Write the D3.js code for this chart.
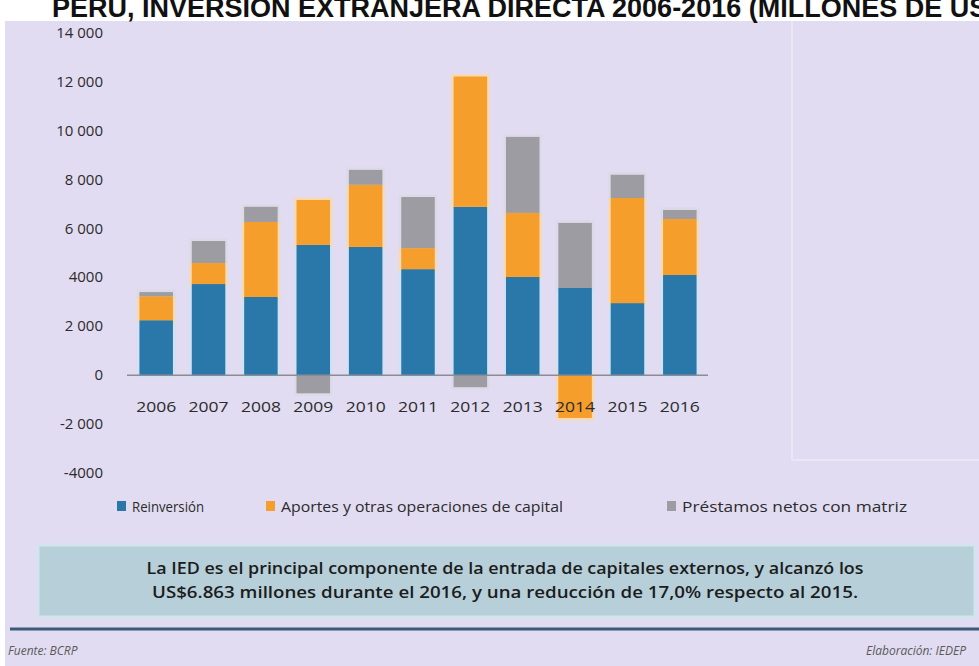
<!DOCTYPE html>
<html>
<head>
<meta charset="utf-8">
<script src="https://cdn.jsdelivr.net/npm/d3@7"></script>
<style>
  html, body { margin: 0; padding: 0; background: #ffffff; }
  svg { display: block; }
  .narrow { font-family: "Open Sans", "Noto Sans", sans-serif; }
  .tick-label { font-size: 15px; fill: #2b2b2b; }
  .legend-text { font-size: 14px; fill: #2b2b2b; }
  .note-text { font-size: 16px; fill: #1c1c1c; font-weight: 600; }
  .foot-text { font-size: 12px; fill: #5a5a5a; font-style: italic; }
  .title { font-family: "Liberation Sans", Arial, sans-serif; font-weight: 700; font-size: 27px; fill: #111; }
</style>
</head>
<body>
<div id="chart"></div>
<script>
const years = ["2006", "2007", "2008", "2009", "2010", "2011", "2012", "2013", "2014", "2015", "2016"];
const reinversion = [2250, 3730, 3200, 5330, 5250, 4340, 6890, 4020, 3570, 2950, 4100];
const aportes = [980, 860, 3070, 1840, 2540, 860, 5330, 2620, -1750, 4300, 2290];
const prestamos = [170, 900, 620, -740, 610, 2090, -490, 3110, 2660, 950, 370];
const yTicks = [14000, 12000, 10000, 8000, 6000, 4000, 2000, 0, -2000, -4000];
const yTickLabels = ["14 000", "12 000", "10 000", "8 000", "6 000", "4000", "2 000", "0", "-2 000", "-4000"];
const seriesKeys = ["reinversion", "aportes", "prestamos"];
const seriesNames = ["Reinversión", "Aportes y otras operaciones de capital", "Préstamos netos con matriz"];

const COLORS = { reinversion: "#2a78aa", aportes: "#f59e2c", prestamos: "#9c9ca2" };
const HALO = { reinversion: "#cfe2f6", aportes: "#fbd9a8", prestamos: "#d9d9e4" };

const W = 979, H = 666;
const svg = d3.select("#chart").append("svg").attr("width", W).attr("height", H);

// background panels
svg.append("rect").attr("x", 5).attr("y", 21).attr("width", W - 5).attr("height", H - 21).attr("fill", "#e1dcf1");
svg.append("line").attr("x1", 792).attr("x2", 792).attr("y1", 21).attr("y2", 460)
  .attr("stroke", "#e9e6f6").attr("stroke-width", 2);
svg.append("line").attr("x1", 792).attr("x2", W).attr("y1", 460).attr("y2", 460)
  .attr("stroke", "#e9e6f6").attr("stroke-width", 2);

// title, runs past the top and right edges as in the source image
svg.append("text").attr("class", "title").attr("x", 52).attr("y", 17)
  .text("PERÚ, INVERSIÓN EXTRANJERA DIRECTA 2006-2016 (MILLONES DE US$)");

const table = years.map((year, i) => ({
  year,
  reinversion: reinversion[i],
  aportes: aportes[i],
  prestamos: prestamos[i],
}));

const stacked = d3.stack().keys(seriesKeys).offset(d3.stackOffsetDiverging)(table);

const x = d3.scaleBand().domain(years).range([130, 706]).paddingInner(0.36).paddingOuter(0.18);
const y = d3.scaleLinear().domain([-4000, 14000]).range([473, 33]);

// halo behind bars
const halo = svg.append("g").attr("class", "halo");
stacked.forEach((layer) => {
  halo.selectAll(null)
    .data(layer)
    .join("rect")
    .attr("x", (d) => x(d.data.year))
    .attr("y", (d) => y(Math.max(d[0], d[1])))
    .attr("width", x.bandwidth())
    .attr("height", (d) => Math.abs(y(d[0]) - y(d[1])))
    .attr("fill", "none")
    .attr("stroke", HALO[layer.key])
    .attr("stroke-width", 5)
    .attr("stroke-opacity", 0.8);
});

const bars = svg.append("g").attr("class", "bars");
stacked.forEach((layer) => {
  bars.selectAll(null)
    .data(layer)
    .join("rect")
    .attr("x", (d) => x(d.data.year))
    .attr("y", (d) => y(Math.max(d[0], d[1])))
    .attr("width", x.bandwidth())
    .attr("height", (d) => Math.abs(y(d[0]) - y(d[1])))
    .attr("fill", COLORS[layer.key]);
});

// zero line
svg.append("line")
  .attr("x1", 127).attr("x2", 708)
  .attr("y1", y(0)).attr("y2", y(0))
  .attr("stroke", "#8c8c94").attr("stroke-width", 1.5);

// y axis labels
const yAxis = svg.append("g")
  .attr("class", "y-axis narrow")
  .attr("transform", "translate(103,0)")
  .call(d3.axisLeft(y).tickValues(yTicks).tickSize(0).tickPadding(0)
    .tickFormat((d, i) => yTickLabels[i]));
yAxis.select(".domain").remove();
yAxis.selectAll("text").attr("class", "tick-label").attr("font-family", null).attr("font-size", null)
  .attr("dy", "0.3em");

// x axis labels
const xAxis = svg.append("g")
  .attr("class", "x-axis narrow")
  .attr("transform", `translate(0,${y(0)})`)
  .call(d3.axisBottom(x).tickSize(0).tickPadding(37));
xAxis.select(".domain").remove();
xAxis.selectAll("text").attr("class", "tick-label").attr("font-family", null).attr("font-size", null)
  .attr("dy", "0").attr("textLength", 40).attr("lengthAdjust", "spacingAndGlyphs");

// legend
const legendX = [117, 266, 667];
const legendW = [72, 282, 225];
const legend = svg.append("g").attr("class", "legend narrow");
seriesKeys.forEach((key, i) => {
  const item = legend.append("g").attr("transform", `translate(${legendX[i]},501)`);
  item.append("rect").attr("width", 9).attr("height", 10).attr("fill", COLORS[key]);
  item.append("text").attr("class", "legend-text").attr("x", 15).attr("y", 10.5)
    .attr("textLength", legendW[i]).attr("lengthAdjust", "spacingAndGlyphs")
    .text(seriesNames[i]);
});

// note box
svg.append("rect").attr("x", 38).attr("y", 545).attr("width", 937).attr("height", 72)
  .attr("fill", "#b6cfd9").attr("stroke", "#d3e4ec").attr("stroke-width", 3);
const noteLines = [
  "La IED es el principal componente de la entrada de capitales externos, y alcanzó los",
  "US$6.863 millones durante el 2016, y una reducción de 17,0% respecto al 2015.",
];
const noteW = [717, 706];
const noteY = [574, 598];
svg.append("g").attr("class", "narrow").selectAll("text")
  .data(noteLines)
  .join("text")
  .attr("class", "note-text")
  .attr("x", 505)
  .attr("y", (d, i) => noteY[i])
  .attr("text-anchor", "middle")
  .attr("textLength", (d, i) => noteW[i])
  .attr("lengthAdjust", "spacingAndGlyphs")
  .text((d) => d);

// footer
svg.append("line").attr("x1", 10).attr("x2", W).attr("y1", 629).attr("y2", 629)
  .attr("stroke", "#3d5a78").attr("stroke-width", 3);
svg.append("text").attr("class", "foot-text narrow").attr("x", 8).attr("y", 655).text("Fuente: BCRP");
svg.append("text").attr("class", "foot-text narrow").attr("x", 866).attr("y", 655).text("Elaboración: IEDEP");
</script>
</body>
</html>
